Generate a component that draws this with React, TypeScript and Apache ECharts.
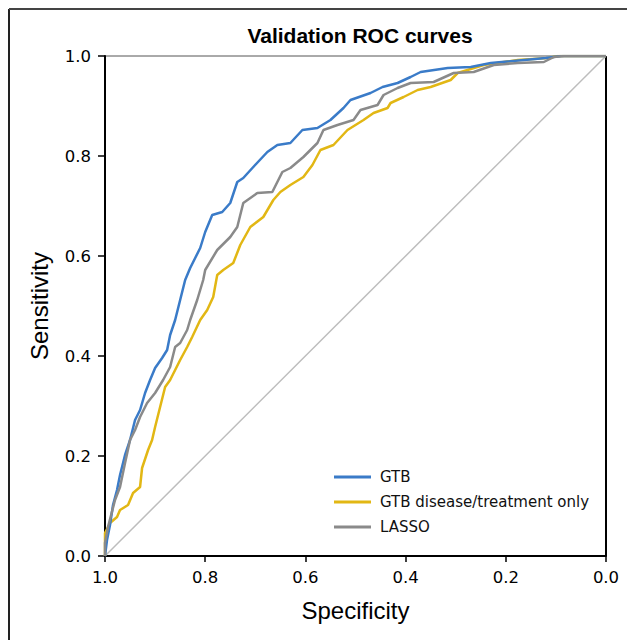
import React, { useEffect, useRef } from "react";
import * as echarts from "echarts";

// [specificity, sensitivity]
const gtbSpec = [1.0, 0.996, 0.99, 0.984, 0.976, 0.97, 0.96, 0.95, 0.94, 0.93, 0.92, 0.91, 0.9, 0.886, 0.876, 0.87, 0.86, 0.85, 0.84, 0.83, 0.82, 0.81, 0.8, 0.786, 0.766, 0.75, 0.736, 0.724, 0.704, 0.676, 0.656, 0.63, 0.606, 0.576, 0.55, 0.524, 0.51, 0.47, 0.446, 0.416, 0.39, 0.37, 0.316, 0.27, 0.23, 0.12, 0.09, 0.0];
const gtbSens = [0, 0.032, 0.062, 0.102, 0.132, 0.162, 0.202, 0.232, 0.272, 0.292, 0.326, 0.352, 0.376, 0.396, 0.412, 0.442, 0.472, 0.512, 0.552, 0.576, 0.596, 0.616, 0.648, 0.682, 0.688, 0.706, 0.748, 0.756, 0.778, 0.808, 0.822, 0.826, 0.852, 0.856, 0.872, 0.896, 0.912, 0.926, 0.938, 0.946, 0.958, 0.968, 0.976, 0.978, 0.986, 0.996, 1.0, 1.0];

const dtSpec = [1.0, 1.0, 0.99, 0.976, 0.97, 0.954, 0.944, 0.93, 0.926, 0.914, 0.906, 0.9, 0.89, 0.88, 0.87, 0.86, 0.85, 0.836, 0.826, 0.81, 0.796, 0.784, 0.776, 0.764, 0.744, 0.73, 0.71, 0.684, 0.664, 0.65, 0.63, 0.604, 0.586, 0.57, 0.544, 0.516, 0.484, 0.464, 0.436, 0.43, 0.404, 0.376, 0.35, 0.31, 0.296, 0.27, 0.244, 0.204, 0.176, 0.116, 0.096, 0.0];
const dtSens = [0, 0.046, 0.066, 0.078, 0.092, 0.102, 0.126, 0.138, 0.176, 0.212, 0.232, 0.258, 0.298, 0.338, 0.352, 0.372, 0.392, 0.418, 0.438, 0.472, 0.492, 0.518, 0.562, 0.572, 0.586, 0.622, 0.658, 0.678, 0.712, 0.728, 0.742, 0.758, 0.782, 0.812, 0.822, 0.852, 0.872, 0.886, 0.896, 0.906, 0.918, 0.932, 0.938, 0.952, 0.966, 0.974, 0.982, 0.988, 0.992, 0.996, 1.0, 1.0];

const lassoSpec = [1.0, 1.0, 0.994, 0.98, 0.97, 0.96, 0.95, 0.94, 0.93, 0.916, 0.9, 0.884, 0.87, 0.86, 0.85, 0.836, 0.83, 0.816, 0.804, 0.8, 0.776, 0.75, 0.736, 0.724, 0.696, 0.666, 0.646, 0.63, 0.604, 0.576, 0.564, 0.536, 0.504, 0.49, 0.456, 0.444, 0.416, 0.39, 0.344, 0.304, 0.264, 0.224, 0.176, 0.124, 0.104, 0.084, 0.0];
const lassoSens = [0, 0.026, 0.058, 0.112, 0.138, 0.186, 0.232, 0.252, 0.278, 0.306, 0.326, 0.352, 0.378, 0.418, 0.426, 0.452, 0.472, 0.512, 0.552, 0.572, 0.612, 0.638, 0.658, 0.706, 0.726, 0.728, 0.768, 0.776, 0.798, 0.826, 0.852, 0.862, 0.872, 0.892, 0.902, 0.922, 0.936, 0.946, 0.948, 0.966, 0.968, 0.982, 0.986, 0.988, 0.998, 1.0, 1.0];

const refSpec = [1.0, 0.0];
const refSens = [0.0, 1.0];

const seriesNames = ["GTB", "GTB disease/treatment only", "LASSO"];

const zip = (a: number[], b: number[]) => a.map((v, i) => [v, b[i]]);

const lib = "'Liberation Sans', Arial, Helvetica, sans-serif";
const wide = "'DejaVu Sans', Verdana, sans-serif";

const GRID = { left: 105, top: 56, width: 501, height: 500 };

export default function App() {
  const ref = useRef<HTMLDivElement>(null);
  useEffect(() => {
    if (!ref.current) return;
    const chart = echarts.init(ref.current, null, { renderer: "svg" });
    const lineSeries = (name: string, data: number[][], color: string, z: number) => ({
      name,
      type: "line",
      data,
      showSymbol: false,
      symbol: "none",
      lineStyle: { color, width: 2.5 },
      itemStyle: { color },
      z,
    });
    const right = GRID.left + GRID.width;
    const bottom = GRID.top + GRID.height;
    chart.setOption({
      animation: false,
      backgroundColor: "#ffffff",
      title: {
        text: "Validation ROC curves",
        left: 355,
        textAlign: "center",
        top: 20,
        textStyle: { fontFamily: lib, fontWeight: "bold", fontSize: 21, color: "#000" },
      },
      grid: { ...GRID, show: false },
      legend: {
        orient: "vertical",
        left: 334,
        top: 469,
        padding: 0,
        icon: "rect",
        itemWidth: 37,
        itemHeight: 3,
        itemGap: 9,
        data: seriesNames,
        textStyle: { fontFamily: wide, fontSize: 15, color: "#111", lineHeight: 16, padding: [0, 0, 0, 4] },
      },
      xAxis: {
        type: "value",
        min: 0,
        max: 1,
        interval: 0.2,
        inverse: true,
        name: "Specificity",
        nameLocation: "middle",
        nameGap: 42,
        nameTextStyle: { fontFamily: lib, fontSize: 24, color: "#000" },
        axisLine: { show: true, onZero: false, lineStyle: { color: "#000", width: 2 } },
        axisTick: { show: true, length: 6, lineStyle: { color: "#000", width: 1.5 } },
        axisLabel: {
          fontFamily: wide,
          fontSize: 16.5,
          color: "#000",
          margin: 13,
          formatter: (v: number) => v.toFixed(1),
        },
        splitLine: { show: false },
      },
      yAxis: {
        type: "value",
        min: 0,
        max: 1,
        interval: 0.2,
        name: "Sensitivity",
        nameLocation: "middle",
        nameGap: 54,
        nameRotate: 90,
        nameTextStyle: { fontFamily: lib, fontSize: 24, color: "#000" },
        axisLine: { show: true, onZero: false, lineStyle: { color: "#000", width: 2 } },
        axisTick: { show: true, length: 7, lineStyle: { color: "#000", width: 1.5 } },
        axisLabel: {
          fontFamily: wide,
          fontSize: 16.5,
          color: "#000",
          margin: 14,
          formatter: (v: number) => v.toFixed(1),
        },
        splitLine: { show: false },
      },
      graphic: [
        { type: "line", shape: { x1: 9, y1: 9, x2: 9, y2: 640 }, style: { stroke: "#222", lineWidth: 2 } },
        { type: "line", shape: { x1: 9, y1: 9, x2: 627, y2: 9 }, style: { stroke: "#444", lineWidth: 2 } },
        { type: "line", shape: { x1: GRID.left, y1: GRID.top, x2: right, y2: GRID.top }, style: { stroke: "#555", lineWidth: 1 } },
        { type: "line", shape: { x1: right, y1: GRID.top, x2: right, y2: bottom }, style: { stroke: "#000", lineWidth: 2 } },
      ],
      series: [
        {
          name: "ref",
          type: "line",
          data: zip(refSpec, refSens),
          showSymbol: false,
          symbol: "none",
          lineStyle: { color: "#bdbdbd", width: 1.5 },
          z: 1,
        },
        lineSeries(seriesNames[0], zip(gtbSpec, gtbSens), "#3a7bc8", 3),
        lineSeries(seriesNames[1], zip(dtSpec, dtSens), "#e2b714", 2),
        lineSeries(seriesNames[2], zip(lassoSpec, lassoSens), "#8a8a8a", 4),
      ],
    });
    return () => chart.dispose();
  }, []);
  return (
    <div
      ref={ref}
      style={{ position: "fixed", left: 0, top: 0, width: 627, height: 640, background: "#fff" }}
    />
  );
}
